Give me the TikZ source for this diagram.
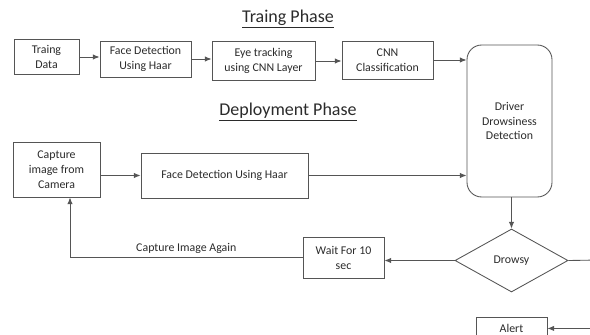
\documentclass[tikz,border=0pt]{standalone}
\usepackage{fontspec}
\setmainfont{Carlito}
\usepackage{xcolor}
\usetikzlibrary{arrows.meta,shapes.geometric}

\definecolor{linegray}{HTML}{555555}
\definecolor{textgray}{HTML}{2B2B2B}
\newcommand{\px}{0.75pt}
\newcommand{\boxfont}{\fontsize{8.9}{11.2}\selectfont}
\newcommand{\titlefont}{\fontsize{13.5}{16}\selectfont}

\begin{document}
\begin{tikzpicture}[
    x=\px, y={(0,-\px)},
    box/.style={draw=linegray,line width=0.65pt,align=center,inner sep=0pt,
                text=textgray,font=\boxfont},
    phase/.style={text=textgray,font=\titlefont},
    flow/.style={draw=linegray,line width=0.65pt,->},
    >={Latex[length=5pt,width=4pt]}]
  \useasboundingbox (0,0) rectangle (590,335);
  \clip (0,0) rectangle (590,335);

  % training phase
  \node[phase] (trainhead) at (288,19) {\underline{Traing Phase}};
  \node[box,minimum width=65*\px,minimum height=35*\px] (data) at (46.5,57)
        {Traing\\Data};
  \node[box,minimum width=91*\px,minimum height=36*\px] (face) at (145.5,59)
        {Face Detection\\Using Haar};
  \node[box,minimum width=103*\px,minimum height=39*\px] (eye) at (263.5,61)
        {Eye tracking\\using CNN Layer};
  \node[box,minimum width=91*\px,minimum height=38*\px] (cnn) at (387.5,60)
        {CNN\\Classification};
  \node[box,rounded corners=11pt,minimum width=85*\px,minimum height=152*\px]
        (driver) at (509.5,121) {Driver\\Drowsiness\\Detection};

  \draw[flow] (data.east)  -- (data.east -| face.west);
  \draw[flow] (face.east)  -- (face.east -| eye.west);
  \draw[flow] (eye.east)   -- (eye.east -| cnn.west);
  \draw[flow] (cnn.east)   -- (cnn.east -| driver.west);

  % deployment phase
  \node[phase] (deployhead) at (288,112) {\underline{Deployment Phase}};
  \node[box,minimum width=87*\px,minimum height=55*\px] (capture) at (56.5,169.5)
        {Capture\\image from\\Camera};
  \node[box,minimum width=167*\px,minimum height=45*\px] (facetwo) at (224.5,175.5)
        {Face Detection Using Haar};
  \node[box,shape=diamond,aspect=1.8,minimum width=113*\px,minimum height=63*\px]
        (drowsy) at (511.5,260.5) {Drowsy};
  \node[box,minimum width=81*\px,minimum height=41*\px] (wait) at (343.5,257.5)
        {Wait For 10\\sec};
  \node[box,minimum width=71*\px,minimum height=22*\px,anchor=north] (alert)
        at (511.5,317) {Alert};
  \coordinate (turn) at (70,256);
  \coordinate (edge) at (600,260);

  \draw[flow] (capture.east |- facetwo.west) -- (facetwo.west);
  \draw[flow] (facetwo.east) -- (facetwo.east -| driver.west);
  \draw[flow] (driver.south -| drowsy.north) -- (drowsy.north);
  \draw[flow] (drowsy.west) -- (drowsy.west -| wait.east);
  \draw[flow] (wait.west) -- node[above=-1pt,text=textgray,font=\boxfont]
        {Capture Image Again} (wait.west -| turn) -- (turn |- capture.south);
  \draw[flow] (drowsy.east) -- (edge) -- (edge |- alert.east) -- (alert.east);
\end{tikzpicture}
\end{document}
